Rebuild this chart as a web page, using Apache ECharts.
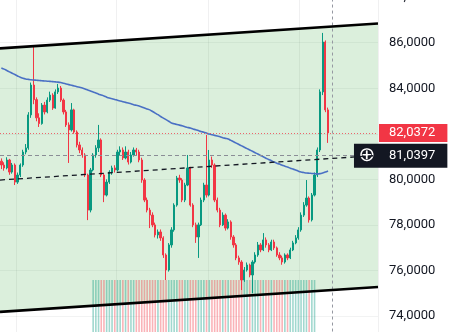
<!DOCTYPE html>
<html><head><meta charset="utf-8">
<script src="https://cdn.jsdelivr.net/npm/echarts@6/dist/echarts.min.js"></script>
<style>html,body{margin:0;padding:0;background:#fff;overflow:hidden}#c{width:449px;height:332px}</style>
</head><body><div id="c"></div>
<script>
// ---- data ----
const slotCount = 140;
const categories = Array.from({length: slotCount}, (_, i) => 'C' + (i + 1));
// [open, close, low, high]
const ohlc = [
[80.80,80.63,80.45,80.92],[80.63,80.50,80.38,80.75],[80.50,80.85,80.44,80.97],[80.85,80.32,80.20,80.90],[80.32,80.63,80.25,80.72],
[80.63,79.88,79.75,80.70],[79.88,80.19,79.80,80.30],[80.19,80.63,80.10,80.70],[80.63,81.20,80.55,81.30],[81.20,81.38,81.10,81.55],
[81.38,82.83,81.30,82.95],[82.83,84.14,82.70,84.25],[84.14,83.50,83.30,85.81],[83.50,82.70,82.55,83.60],[82.70,82.45,82.30,82.90],
[82.45,83.26,82.40,83.35],[83.26,82.96,82.85,83.40],[82.96,83.48,82.90,83.60],[83.48,83.70,83.40,83.85],[83.70,83.13,83.05,83.78],
[83.13,83.84,83.10,83.95],[83.84,84.01,83.75,84.19],[84.01,83.48,83.40,84.10],[83.48,82.96,82.85,83.55],[82.96,82.39,82.30,83.05],
[82.39,82.17,80.72,82.50],[82.17,83.05,82.10,83.35],[83.05,82.08,82.00,83.10],[82.08,81.51,81.40,82.15],[81.51,81.29,81.15,81.65],
[81.29,81.07,80.95,81.40],[81.07,80.19,80.10,81.15],[80.19,78.65,78.21,80.25],[78.65,80.41,78.55,80.50],[80.41,81.07,80.35,81.15],
[81.07,81.38,80.95,81.50],[81.38,81.73,81.20,82.39],[81.73,80.19,80.10,81.80],[80.19,79.31,79.00,80.25],[79.31,79.88,79.25,80.00],
[79.88,80.32,79.80,80.40],[80.32,80.50,80.20,80.60],[80.50,80.41,80.30,80.62],[80.41,81.20,80.35,81.30],[81.20,81.29,81.05,81.45],
[81.29,80.94,80.85,81.40],[80.94,81.20,80.88,81.45],[81.20,80.76,80.65,81.30],[80.76,81.07,80.70,81.20],[81.07,81.29,81.00,81.40],
[81.29,81.20,81.05,81.38],[81.20,80.85,80.75,81.30],[80.85,79.97,79.85,80.95],[79.97,79.09,79.00,80.05],[79.09,78.65,78.55,79.20],
[78.65,78.43,77.86,78.75],[78.43,78.00,77.90,78.55],[78.00,77.56,77.45,78.10],[77.56,77.69,77.40,77.80],[77.69,77.43,77.30,77.80],
[77.43,76.68,76.55,77.50],[76.68,76.02,75.58,76.75],[76.02,77.12,75.95,77.20],[77.12,77.78,77.00,77.90],[77.78,78.87,77.70,78.95],
[78.87,80.06,78.80,80.15],[80.06,79.97,79.85,80.20],[79.97,79.09,79.00,80.05],[79.09,79.75,79.00,79.85],[79.75,80.50,79.70,81.07],
[80.50,78.87,78.80,80.55],[78.87,78.00,77.90,78.95],[78.00,77.47,77.21,78.10],[77.47,78.00,76.55,78.10],[78.00,79.09,77.95,79.20],
[79.09,79.75,79.00,79.85],[79.75,79.31,79.20,81.95],[79.31,80.85,79.25,81.29],[80.85,80.63,80.50,81.00],[80.63,79.09,79.00,80.70],
[79.09,78.65,78.55,79.20],[78.65,78.00,77.90,78.75],[78.00,78.43,77.95,78.55],[78.43,77.86,77.75,78.50],[77.86,78.13,77.80,78.25],
[78.13,77.47,77.35,78.20],[77.47,77.12,77.00,77.55],[77.12,76.55,76.45,77.20],[76.55,76.37,76.25,76.65],[76.37,75.58,75.14,76.45],
[75.58,76.02,75.50,76.15],[76.02,76.24,75.95,76.35],[76.24,75.80,75.70,76.30],[75.80,76.37,75.01,76.45],[76.37,76.68,76.30,76.80],
[76.68,77.12,76.60,77.25],[77.12,76.90,76.80,77.20],[76.90,77.34,76.85,77.64],[77.34,77.12,77.00,77.45],[77.12,76.90,76.80,77.20],
[76.90,77.25,76.85,77.35],[77.25,76.99,76.90,77.35],[76.99,76.68,76.60,77.05],[76.68,76.55,76.45,76.80],[76.55,76.37,76.25,76.65],
[76.37,76.68,76.30,76.75],[76.68,76.55,76.45,76.75],[76.55,76.90,76.50,77.00],[76.90,77.21,76.85,77.30],[77.21,77.43,77.15,77.55],
[77.43,77.78,77.35,77.90],[77.78,78.43,77.70,78.55],[78.43,78.87,78.35,79.00],[78.87,79.18,78.80,79.97],[79.18,78.22,78.10,79.25],
[78.22,79.31,78.15,79.40],[79.31,80.19,79.25,80.30],[80.19,81.29,80.10,81.40],[81.29,83.84,81.20,83.95],[83.84,86.03,83.70,86.43],
[86.03,83.05,82.95,86.10],[83.05,82.0372,81.60,83.15]
];
const ma = [
84.89,84.84,84.78,84.72,84.66,84.60,84.54,84.48,84.44,84.41,
84.39,84.37,84.36,84.35,84.34,84.33,84.32,84.31,84.30,84.29,
84.28,84.27,84.25,84.22,84.19,84.16,84.13,84.10,84.07,84.04,
84.01,83.97,83.92,83.88,83.83,83.79,83.74,83.70,83.66,83.61,
83.57,83.54,83.51,83.47,83.44,83.41,83.38,83.35,83.32,83.28,
83.25,83.22,83.18,83.13,83.09,83.05,82.98,82.91,82.84,82.76,
82.69,82.62,82.55,82.47,82.44,82.41,82.38,82.35,82.31,82.28,
82.25,82.21,82.18,82.14,82.10,82.07,82.03,81.99,81.96,81.93,
81.90,81.87,81.83,81.80,81.77,81.71,81.65,81.59,81.53,81.47,
81.41,81.35,81.29,81.23,81.17,81.11,81.05,80.99,80.93,80.87,
80.82,80.76,80.71,80.67,80.62,80.58,80.54,80.49,80.45,80.41,
80.36,80.32,80.30,80.28,80.27,80.26,80.25,80.24,80.25,80.28,
80.32,80.37
];
const volume = [
'-','-','-','-','-','-','-','-','-','-',
'-','-','-','-','-','-','-','-','-','-',
'-','-','-','-','-','-','-','-','-','-',
'-','-','-','-',1,1,1,1,1,1,
1,1,1,1,1,1,1,1,1,1,
1,1,1,1,1,1,1,1,1,1,
1,1,1,1,1,1,1,1,1,1,
1,1,1,1,1,1,1,1,1,1,
1,1,1,1,1,1,1,1,1,1,
1,1,1,1,1,1,1,1,1,1,
1,1,1,1,1,1,1,1,1,1,
1,1,1,1,1,1,1,'-','-','-',
'-','-'
];
const yTickStep = 2;
const yMin = 72, yMax = 88;
const channelX = [0, 140];
const channelTop = [85.75, 86.84];
const channelBottom = [74.18, 75.27];
const channelMid = [79.97, 81.05];
const lastPrice = 82.0372;
const crossPrice = 81.0397;
const crossX = 123;
const crossLabelX = 131.1;
const gridLineSlots = [6, 43, 77, 111];

// ---- chart ----
const UP = '#089981', DOWN = '#f23645';
const fmt = v => v.toFixed(4).replace('.', ',');
const chart = echarts.init(document.getElementById('c'), null, {renderer: 'canvas'});
const volData = volume.map((v, i) => {
  if (v === '-') return '-';
  const d = ohlc[i];
  return {value: v, itemStyle: {color: d[1] >= d[0] ? 'rgba(8,153,129,0.38)' : 'rgba(242,54,69,0.38)'}};
});
const gridInterval = (idx) => gridLineSlots.indexOf(idx) >= 0;
chart.setOption({
  animation: false,
  backgroundColor: '#ffffff',
  textStyle: {fontFamily: 'Roboto'},
  grid: [
    {left: 0, right: 71, top: -2.85, bottom: -29.55, outerBoundsMode: 'none', containLabel: false},
    {left: 0, right: 71, top: 280, bottom: 0, outerBoundsMode: 'none', containLabel: false}
  ],
  xAxis: [
    {type: 'category', data: categories, gridIndex: 0, boundaryGap: true,
     axisLine: {show: false}, axisTick: {show: false}, axisLabel: {show: false},
     splitLine: {show: true, interval: gridInterval, lineStyle: {color: 'rgba(42,46,57,0.07)', width: 1}}},
    {type: 'value', gridIndex: 0, min: 0, max: slotCount, show: false},
    {type: 'category', data: categories, gridIndex: 1, boundaryGap: true, show: false}
  ],
  yAxis: [
    {type: 'value', gridIndex: 0, position: 'right', min: yMin, max: yMax, interval: yTickStep,
     axisLine: {show: false}, axisTick: {show: false},
     axisLabel: {margin: 11, color: '#131722', fontSize: 13, fontFamily: 'Roboto', formatter: fmt,
       showMaxLabel: true, showMinLabel: true, hideOverlap: false},
     splitLine: {show: true, lineStyle: {color: 'rgba(42,46,57,0.06)'}}},
    {type: 'value', gridIndex: 1, min: 0, max: 1, show: false}
  ],
  series: [
    {type: 'custom', xAxisIndex: 1, yAxisIndex: 0, z: 1, silent: true, data: [[0]],
     renderItem: (params, api) => {
       const pts = [
         api.coord([channelX[0], channelTop[0]]), api.coord([channelX[1], channelTop[1]]),
         api.coord([channelX[1], channelBottom[1]]), api.coord([channelX[0], channelBottom[0]])
       ];
       return {type: 'polygon', shape: {points: pts}, style: {fill: 'rgba(76,175,80,0.2)'}};
     }},
    {type: 'bar', xAxisIndex: 2, yAxisIndex: 1, data: volData, barWidth: 1.6, z: 2, silent: true},
    {type: 'candlestick', xAxisIndex: 0, yAxisIndex: 0, data: ohlc, z: 3, barWidth: 1.8,
     itemStyle: {color: UP, color0: DOWN, borderColor: UP, borderColor0: DOWN, borderWidth: 1}},
    {type: 'line', xAxisIndex: 0, yAxisIndex: 0, data: ma, z: 4, symbol: 'none', smooth: 0.3,
     lineStyle: {color: '#4a70c4', width: 1.6}},
    {type: 'line', xAxisIndex: 1, yAxisIndex: 0, z: 5, symbol: 'none',
     data: [[channelX[0], channelTop[0]], [channelX[1], channelTop[1]]],
     lineStyle: {color: '#000000', width: 2.6}},
    {type: 'line', xAxisIndex: 1, yAxisIndex: 0, z: 5, symbol: 'none',
     data: [[channelX[0], channelBottom[0]], [channelX[1], channelBottom[1]]],
     lineStyle: {color: '#000000', width: 2.6}},
    {type: 'line', xAxisIndex: 1, yAxisIndex: 0, z: 5, symbol: 'none',
     data: [[channelX[0], channelMid[0]], [channelX[1], channelMid[1]]],
     lineStyle: {color: '#131722', width: 1.3, type: [5, 4]}},
    {type: 'line', xAxisIndex: 1, yAxisIndex: 0, z: 6, data: [],
     markLine: {silent: true, symbol: ['none', 'none'], animation: false,
       lineStyle: {color: '#9598a1', width: 1, type: [3, 3]},
       label: {show: false},
       data: [{xAxis: crossX}]}},
    {type: 'line', xAxisIndex: 1, yAxisIndex: 0, z: 7, data: [],
     markLine: {silent: true, symbol: ['none', 'none'], animation: false,
       lineStyle: {color: 'rgba(242,54,69,0.75)', width: 1, type: [1, 2]},
       label: {show: true, position: 'end', distance: 1, formatter: () => fmt(lastPrice),
         backgroundColor: '#f23645', color: '#ffffff', fontSize: 13, fontFamily: 'Roboto',
         padding: [2, 12, 2, 10], lineHeight: 14},
       data: [{yAxis: lastPrice}]}},
    {type: 'line', xAxisIndex: 1, yAxisIndex: 0, z: 8, data: [],
     markLine: {silent: true, symbol: ['none', 'none'], animation: false,
       lineStyle: {color: '#8a8d96', width: 1, type: [4, 3]},
       label: {show: true, position: 'end', distance: 0,
         formatter: () => '{i|\u2295}{t|' + fmt(crossPrice) + '}',
         backgroundColor: '#131722', color: '#ffffff', padding: [4, 12, 4, 0],
         rich: {
           i: {width: 26, align: 'center', fontSize: 20, fontFamily: 'DejaVu Sans', color: '#ffffff', lineHeight: 16},
           t: {fontSize: 13, fontFamily: 'Roboto', color: '#ffffff', padding: [0, 0, 0, 9], lineHeight: 16}
         }},
       data: [[{coord: [0, crossPrice]}, {coord: [crossLabelX, crossPrice]}]]}}
  ]
});
</script></body></html>
